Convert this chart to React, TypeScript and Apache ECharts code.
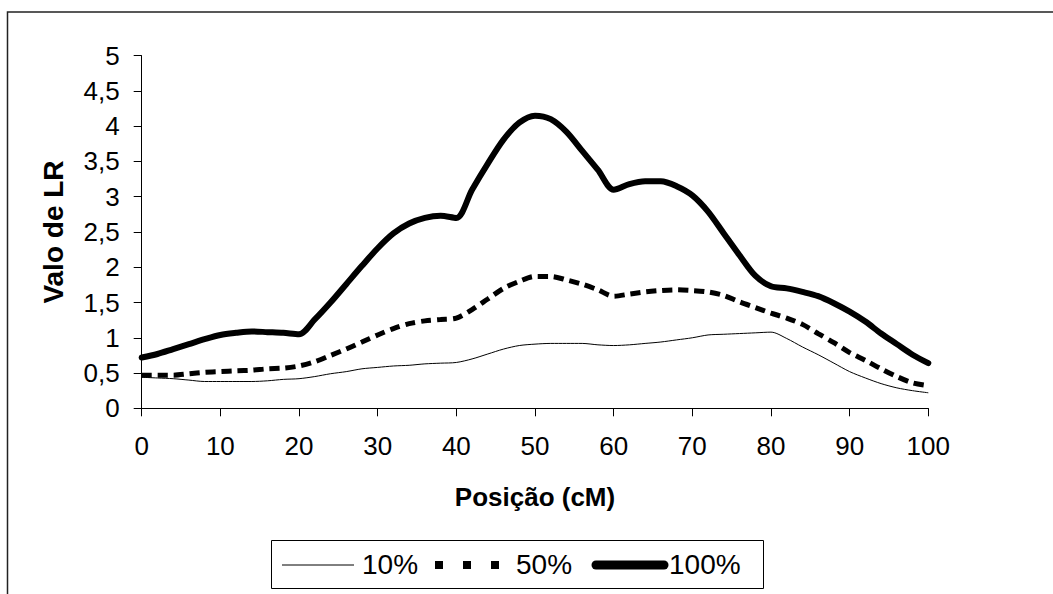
import React, { useEffect, useRef } from "react";
import * as echarts from "echarts";

const positions = [0,2,4,6,8,10,12,14,16,18,20,22,24,26,28,30,32,34,36,38,40,42,44,46,48,50,52,54,56,58,60,62,64,66,68,70,72,74,76,78,80,82,84,86,88,90,92,94,96,98,100];

const lr10 = [0.44,0.43,0.42,0.40,0.38,0.38,0.38,0.38,0.39,0.41,0.42,0.45,0.49,0.52,0.56,0.58,0.60,0.61,0.63,0.64,0.65,0.70,0.77,0.84,0.89,0.91,0.92,0.92,0.92,0.90,0.89,0.90,0.92,0.94,0.97,1.00,1.04,1.05,1.06,1.07,1.08,0.99,0.87,0.76,0.64,0.52,0.43,0.35,0.29,0.25,0.22];

const lr50 = [0.47,0.47,0.47,0.49,0.51,0.52,0.53,0.54,0.56,0.57,0.60,0.66,0.75,0.84,0.94,1.04,1.13,1.20,1.24,1.26,1.28,1.40,1.55,1.70,1.80,1.87,1.87,1.82,1.76,1.68,1.59,1.62,1.65,1.67,1.68,1.67,1.65,1.60,1.51,1.43,1.35,1.28,1.19,1.06,0.93,0.79,0.68,0.56,0.45,0.36,0.32];

const lr100 = [0.72,0.77,0.84,0.91,0.98,1.04,1.07,1.09,1.08,1.07,1.05,1.26,1.50,1.76,2.02,2.27,2.48,2.62,2.70,2.73,2.70,3.10,3.47,3.81,4.05,4.15,4.10,3.92,3.65,3.38,3.10,3.18,3.22,3.22,3.15,3.02,2.79,2.48,2.17,1.88,1.73,1.70,1.65,1.59,1.49,1.37,1.23,1.06,0.91,0.76,0.64];

const seriesNames = ["10%", "50%", "100%"];
const xTitle = "Posição (cM)";
const yTitle = "Valo de LR";

const FONT = "'Liberation Sans', Arial, sans-serif";

export default function App() {
  const ref = useRef<HTMLDivElement>(null);
  useEffect(() => {
    document.body.style.margin = "0";
    const chart = echarts.init(ref.current!, null, { renderer: "svg" });
    const pair = (arr: number[]) => positions.map((p, i) => [p, arr[i]]);
    const legendText = (name: string, x: number) => ({
      type: "text",
      x,
      y: 564,
      silent: true,
      style: {
        text: name,
        fontFamily: FONT,
        fontSize: 28,
        fill: "#000",
        align: "left",
        verticalAlign: "middle",
      },
    });
    chart.setOption({
      animation: false,
      backgroundColor: "#ffffff",
      textStyle: { fontFamily: FONT, color: "#000" },
      graphic: [
        {
          type: "rect",
          shape: { x: 7.5, y: 12, width: 1100, height: 700 },
          style: { fill: "none", stroke: "#222", lineWidth: 1.5 },
          silent: true,
        },
        {
          type: "rect",
          shape: { x: 271.5, y: 540.5, width: 492, height: 48 },
          style: { fill: "#fff", stroke: "#000", lineWidth: 1 },
          silent: true,
        },
        {
          type: "line",
          shape: { x1: 282, y1: 565, x2: 354, y2: 565 },
          style: { stroke: "#000", lineWidth: 1 },
          silent: true,
        },
        legendText(seriesNames[0], 362),
        {
          type: "line",
          shape: { x1: 435, y1: 565, x2: 502, y2: 565 },
          style: { stroke: "#000", lineWidth: 8, lineDash: [8, 20] },
          silent: true,
        },
        legendText(seriesNames[1], 516),
        {
          type: "line",
          shape: { x1: 596, y1: 565, x2: 664, y2: 565 },
          style: { stroke: "#000", lineWidth: 9, lineCap: "round" },
          silent: true,
        },
        legendText(seriesNames[2], 669),
      ],
      grid: { left: 141.7, right: 124.7, top: 55.7, bottom: 185.7 },
      xAxis: {
        type: "value",
        min: 0,
        max: 100,
        interval: 10,
        name: xTitle,
        nameLocation: "middle",
        nameGap: 76,
        nameTextStyle: { fontFamily: FONT, fontSize: 26, fontWeight: "bold", color: "#000" },
        axisLine: { show: true, onZero: false, lineStyle: { color: "#000", width: 1 } },
        axisTick: { show: true, length: 8, lineStyle: { color: "#000" } },
        axisLabel: { fontFamily: FONT, fontSize: 26, color: "#000", margin: 25 },
        splitLine: { show: false },
      },
      yAxis: {
        type: "value",
        min: 0,
        max: 5,
        interval: 0.5,
        name: yTitle,
        nameLocation: "middle",
        nameGap: 74,
        nameRotate: 90,
        nameTextStyle: { fontFamily: FONT, fontSize: 28, fontWeight: "bold", color: "#000" },
        axisLine: { show: true, lineStyle: { color: "#000", width: 1 } },
        axisTick: { show: true, length: 8, lineStyle: { color: "#000" } },
        axisLabel: {
          fontFamily: FONT,
          fontSize: 26,
          color: "#000",
          margin: 22,
          formatter: (v: number) => String(v).replace(".", ","),
        },
        splitLine: { show: false },
      },
      series: [
        {
          name: seriesNames[0],
          type: "line",
          data: pair(lr10),
          smooth: 0.3,
          symbol: "none",
          lineStyle: { color: "#000", width: 1 },
          itemStyle: { color: "#000" },
        },
        {
          name: seriesNames[1],
          type: "line",
          data: pair(lr50),
          smooth: 0.3,
          symbol: "none",
          lineStyle: { color: "#000", width: 5, type: [10, 6] },
          itemStyle: { color: "#000" },
        },
        {
          name: seriesNames[2],
          type: "line",
          data: pair(lr100),
          smooth: 0.3,
          symbol: "none",
          lineStyle: { color: "#000", width: 6, cap: "round", join: "round" },
          itemStyle: { color: "#000" },
        },
      ],
    });
    return () => chart.dispose();
  }, []);
  return <div ref={ref} style={{ width: 1053, height: 594 }} />;
}
